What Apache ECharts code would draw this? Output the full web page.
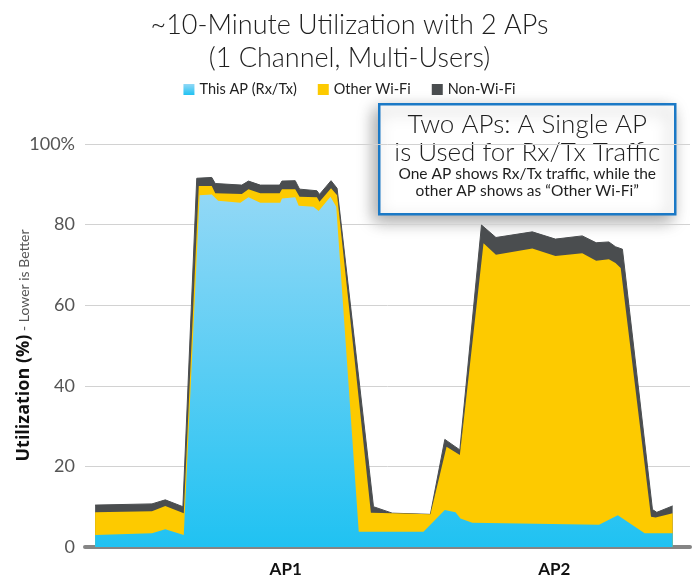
<!DOCTYPE html>
<html>
<head>
<meta charset="utf-8">
<script src="https://cdn.jsdelivr.net/npm/echarts@6/dist/echarts.min.js"></script>
<style>
html, body { margin: 0; padding: 0; background: #fff; }
#divChart { width: 699px; height: 580px; }
</style>
</head>
<body>
<div id="divChart"></div>
<script>
// time in minutes (AP1 run then AP2 run), values = top edge of each layer in %
var thisApTime = [0, 1.97, 2.43, 3.07, 3.62, 4.04, 4.26, 5.03, 5.31, 5.72, 6.41, 6.47, 6.93, 7.05, 7.56, 7.74, 8.15, 8.35, 9.13, 11.37, 12.11, 12.48, 12.65, 13.06, 17.45, 18.10, 19.03, 20];
var thisApTop = [3.0, 3.4, 4.4, 3.0, 87.3, 87.5, 85.9, 85.4, 86.8, 85.4, 85.4, 86.5, 86.8, 84.7, 84.4, 83.4, 86.9, 84.4, 3.8, 3.8, 9.2, 8.6, 7.1, 6.0, 5.5, 7.9, 3.4, 3.4];

var otherWifiTime = [0, 1.97, 2.43, 3.07, 3.59, 4.04, 4.16, 5.08, 5.31, 5.72, 6.39, 6.47, 6.93, 7.08, 7.68, 7.77, 8.17, 8.38, 9.55, 10.29, 11.61, 12.17, 12.63, 13.45, 13.88, 15.14, 15.94, 16.87, 17.35, 17.79, 18.02, 18.20, 19.25, 19.41, 20];
var otherWifiTop = [8.6, 8.9, 10.2, 8.4, 89.6, 89.6, 87.8, 87.6, 88.8, 87.8, 87.8, 88.8, 88.8, 86.9, 86.8, 85.7, 89.0, 87.3, 8.5, 8.4, 8.1, 24.9, 22.8, 75.4, 72.5, 74.1, 72.2, 72.9, 71.0, 71.4, 70.5, 69.2, 7.5, 7.3, 8.4];

var nonWifiTime = [0, 1.97, 2.43, 3.04, 3.52, 4.04, 4.16, 5.08, 5.31, 5.72, 6.39, 6.47, 6.93, 7.08, 7.68, 7.77, 8.17, 8.38, 9.64, 10.29, 11.61, 12.11, 12.63, 13.38, 13.88, 15.14, 15.94, 16.87, 17.35, 17.79, 18.02, 18.26, 19.30, 19.45, 20];
var nonWifiTop = [10.4, 10.7, 11.7, 10.0, 91.5, 91.7, 90.2, 89.8, 90.8, 89.8, 89.8, 90.8, 90.9, 88.8, 88.4, 87.5, 90.9, 89.0, 10.0, 8.4, 8.1, 26.7, 24.1, 79.9, 76.8, 78.2, 76.4, 77.2, 75.5, 75.7, 74.5, 73.9, 9.3, 8.6, 10.2];

var apNames = ['AP1', 'AP2'];
var apCenters = [6.6, 15.9];
var yTicks = [0, 20, 40, 60, 80, 100];

var fontMain = 'Lato, "Noto Sans", sans-serif';

function pairs(xs, ys) {
    var out = [];
    for (var i = 0; i < xs.length; i++) {
        out.push([xs[i], ys[i]]);
    }
    return out;
}

var myChart = echarts.init(document.getElementById('divChart'));

var blueFill = new echarts.graphic.LinearGradient(0, 0, 0, 1, [
    { offset: 0, color: '#92d8f6' },
    { offset: 1, color: '#20c2f2' }
]);

var option = {
    animation: false,
    title: {
        text: '~10-Minute Utilization with 2 APs\n(1 Channel, Multi-Users)',
        left: 'center',
        top: 4,
        textStyle: {
            fontFamily: fontMain,
            fontWeight: 300,
            fontSize: 27,
            lineHeight: 33,
            color: '#1e1e1e'
        }
    },
    legend: {
        data: ['This AP (Rx/Tx)', 'Other Wi-Fi', 'Non-Wi-Fi'],
        top: 77,
        left: 'center',
        itemWidth: 11,
        itemHeight: 11,
        itemGap: 21,
        icon: 'rect',
        textStyle: { fontFamily: fontMain, fontSize: 14.5, color: '#222' }
    },
    grid: { left: 85, right: 9, top: 144, bottom: 33, outerBoundsMode: 'none' },
    xAxis: {
        type: 'value',
        min: -0.35,
        max: 20.6,
        splitLine: { show: false },
        axisTick: { show: false },
        axisLine: { show: true, lineStyle: { color: '#858585', width: 4, cap: 'round' } },
        axisLabel: {
            customValues: apCenters,
            formatter: function(v) {
                return v < 10 ? apNames[0] : apNames[1];
            },
            margin: 14,
            fontFamily: fontMain,
            fontWeight: 'bold',
            fontSize: 17,
            color: '#111'
        }
    },
    yAxis: {
        type: 'value',
        min: 0,
        max: 100,
        interval: 20,
        name: '{b|Utilization (%)}{s| - Lower is Better}',
        nameLocation: 'middle',
        nameGap: 52,
        nameMoveOverlap: false,
        nameTextStyle: {
            rich: {
                b: { fontFamily: '"Open Sans", sans-serif', fontWeight: 'bold', fontSize: 18, color: '#111' },
                s: { fontFamily: fontMain, fontSize: 14, color: '#555' }
            }
        },
        axisLine: { show: false },
        axisTick: { show: false },
        splitLine: { lineStyle: { color: '#d2d2d2', width: 1 } },
        axisLabel: {
            margin: 10,
            fontFamily: fontMain,
            fontSize: 18,
            color: '#555',
            formatter: function(v) {
                return v === yTicks[yTicks.length - 1] ? v + '%' : v;
            }
        }
    },
    series: [{
        name: 'This AP (Rx/Tx)',
        type: 'line',
        z: 4,
        showSymbol: false,
        color: blueFill,
        lineStyle: { width: 0 },
        areaStyle: { color: blueFill, opacity: 1 },
        data: pairs(thisApTime, thisApTop)
    }, {
        name: 'Other Wi-Fi',
        type: 'line',
        z: 3,
        showSymbol: false,
        color: '#fdca00',
        lineStyle: { width: 0 },
        areaStyle: { color: '#fdca00', opacity: 1 },
        data: pairs(otherWifiTime, otherWifiTop)
    }, {
        name: 'Non-Wi-Fi',
        type: 'line',
        z: 2,
        showSymbol: false,
        color: '#4a4d4f',
        lineStyle: { width: 1, color: '#4a4d4f' },
        areaStyle: { color: '#4a4d4f', opacity: 1 },
        data: pairs(nonWifiTime, nonWifiTop)
    }],
    graphic: [{
        type: 'group',
        left: 378,
        top: 103,
        z: 100,
        children: [{
            type: 'rect',
            shape: { x: 0, y: 0, width: 296, height: 110 },
            style: {
                fill: '#fff',
                stroke: '#1b79c6',
                lineWidth: 2.5,
                shadowBlur: 16,
                shadowColor: 'rgba(0,0,0,0.35)',
                shadowOffsetX: -4,
                shadowOffsetY: 6
            }
        }, {
            type: 'text',
            x: 148,
            y: 6,
            style: {
                text: 'Two APs: A Single AP\nis Used for Rx/Tx Traffic',
                align: 'center',
                fontFamily: fontMain,
                fontWeight: 300,
                fontSize: 26,
                lineHeight: 28,
                fill: '#1e1e1e'
            }
        }, {
            type: 'text',
            x: 148,
            y: 61,
            style: {
                text: 'One AP shows Rx/Tx traffic, while the\nother AP shows as \u201cOther Wi-Fi\u201d',
                align: 'center',
                fontFamily: fontMain,
                fontSize: 15.5,
                lineHeight: 17,
                fill: '#1e1e1e'
            }
        }]
    }]
};

myChart.setOption(option);
</script>
</body>
</html>
